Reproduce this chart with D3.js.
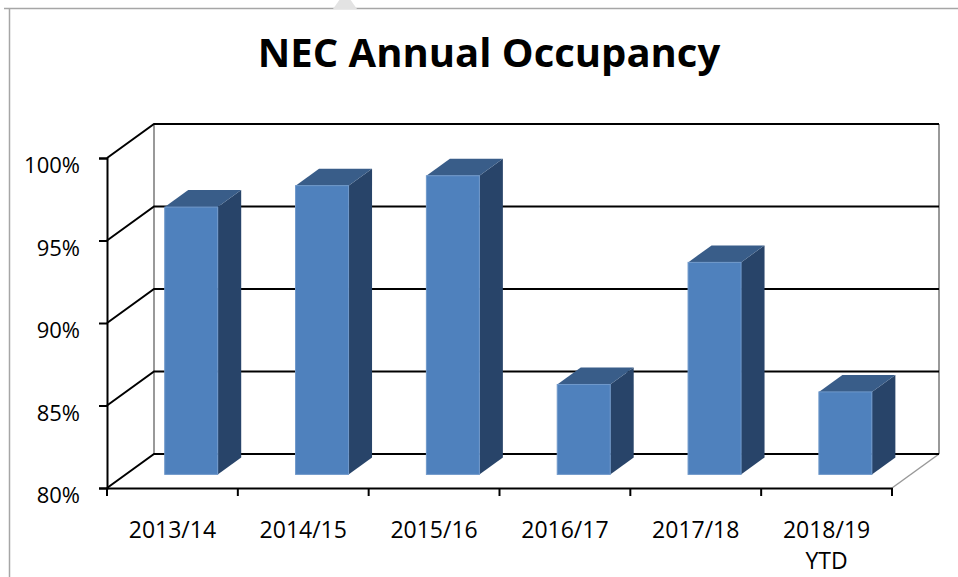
<!DOCTYPE html>
<html>
<head>
<meta charset="utf-8">
<script src="https://cdn.jsdelivr.net/npm/d3@7"></script>
<style>
  body { margin: 0; background: #fff; }
  svg { display: block; }
  text { font-family: "Open Sans", sans-serif; fill: #000; }
</style>
</head>
<body>
<svg id="chart" width="958" height="577"></svg>
<script>
// chart data
let years = ["2013/14", "2014/15", "2015/16", "2016/17", "2017/18", "2018/19 YTD"];
let occupancy = [96.2, 97.5, 98.1, 85.45, 92.85, 85.0];
let yTicks = [80, 85, 90, 95, 100];
let chartTitle = "NEC Annual Occupancy";

let svg = d3.select("#chart");

// front plane of the 3d box
let plotLeft = 107, plotRight = 892, plotTop = 158, plotBottom = 488;
// offset to the back wall
let depthX = 47, depthY = -34;

let xScale = d3.scaleBand()
  .domain(years)
  .range([plotLeft, plotRight])
  .padding(0);
let yScale = d3.scaleLinear()
  .domain([80, 100])
  .range([plotBottom, plotTop]);

// outer chart border (top and left are visible)
svg.append("line").attr("x1", 4).attr("x2", 958).attr("y1", 8.5).attr("y2", 8.5)
  .attr("stroke", "#a6a6a6").attr("stroke-width", 1.5);
svg.append("line").attr("x1", 9.5).attr("x2", 9.5).attr("y1", 8).attr("y2", 577)
  .attr("stroke", "#a6a6a6").attr("stroke-width", 1.5);
svg.append("path").attr("d", "M333,9 L345,-8 L357,9 Z").attr("fill", "#e3e3e3");

// title
svg.append("text")
  .attr("x", 489).attr("y", 67)
  .attr("text-anchor", "middle")
  .style("font-size", "40px")
  .style("font-weight", "bold")
  .text(chartTitle);

let walls = svg.append("g");

// back wall edges (grey)
walls.append("line")
  .attr("x1", plotLeft + depthX).attr("x2", plotLeft + depthX)
  .attr("y1", yScale(100) + depthY).attr("y2", yScale(80) + depthY)
  .attr("stroke", "#999").attr("stroke-width", 2);
walls.append("line")
  .attr("x1", plotRight + depthX).attr("x2", plotRight + depthX)
  .attr("y1", yScale(100) + depthY).attr("y2", yScale(80) + depthY)
  .attr("stroke", "#999").attr("stroke-width", 2);
// right edge of the floor
walls.append("line")
  .attr("x1", plotRight).attr("x2", plotRight + depthX)
  .attr("y1", yScale(80)).attr("y2", yScale(80) + depthY)
  .attr("stroke", "#999").attr("stroke-width", 1.5);

// gridlines: across the side wall and along the back wall
yTicks.forEach(function(v) {
  walls.append("polyline")
    .attr("points", [
      [plotLeft, yScale(v)],
      [plotLeft + depthX, yScale(v) + depthY],
      [plotRight + depthX, yScale(v) + depthY]
    ].join(" "))
    .attr("fill", "none")
    .attr("stroke", "#000")
    .attr("stroke-width", 2);
});

// y axis
let yAxis = d3.axisLeft(yScale)
  .tickValues(yTicks)
  .tickSize(8)
  .tickPadding(19)
  .tickFormat(d => d + "%");
let yAxisG = svg.append("g")
  .attr("transform", "translate(" + plotLeft + ",0)")
  .call(yAxis);
yAxisG.select(".domain").attr("stroke", "#000").attr("stroke-width", 2);
yAxisG.selectAll(".tick line").attr("stroke", "#000").attr("stroke-width", 2);
yAxisG.selectAll(".tick text")
  .attr("dy", "0.66em")
  .style("font-size", "22px")
  .style("font-family", "'Open Sans', sans-serif");

// x axis: line along the front floor edge, ticks between categories
let xAxis = d3.axisBottom(xScale).tickSize(0).tickPadding(0);
let xAxisG = svg.append("g")
  .attr("transform", "translate(0," + plotBottom + ")")
  .call(xAxis);
xAxisG.select(".domain").attr("stroke", "#000").attr("stroke-width", 2);
xAxisG.selectAll(".tick text").remove();
xAxisG.selectAll(".tick").each(function(d) {
  let parts = d.split(" ");
  let t = d3.select(this).append("text")
    .attr("text-anchor", "middle")
    .style("font-size", "23px")
    .style("font-family", "'Open Sans', sans-serif");
  parts.forEach(function(p, i) {
    t.append("tspan").attr("x", 0).attr("y", 50 + i * 31).text(p);
  });
});
let boundaries = years.map(d => xScale(d)).concat([plotRight]);
xAxisG.selectAll(".bound")
  .data(boundaries)
  .enter().append("line")
  .attr("class", "bound")
  .attr("x1", d => d).attr("x2", d => d)
  .attr("y1", 0).attr("y2", 8)
  .attr("stroke", "#000").attr("stroke-width", 2);

// 3d bars
let barFront = 0.4, barDepth = 0.5;
let barWidth = xScale.bandwidth() * 0.405;
let fx = depthX * barFront, fy = depthY * barFront;
let bx = depthX * barDepth, by = depthY * barDepth;

let bars = svg.append("g").selectAll("g")
  .data(years.map((y, i) => ({ year: y, value: occupancy[i] })))
  .enter().append("g");

bars.each(function(d) {
  let g = d3.select(this);
  let x0 = xScale(d.year) + (xScale.bandwidth() - barWidth) / 2 + fx;
  let x1 = x0 + barWidth;
  let yTop = yScale(d.value) + fy;
  let yBot = yScale(80) + fy;

  // side face
  g.append("polygon")
    .attr("points", [[x1, yTop], [x1 + bx, yTop + by], [x1 + bx, yBot + by], [x1, yBot]].join(" "))
    .attr("fill", "#284469");
  // top face
  g.append("polygon")
    .attr("points", [[x0, yTop], [x0 + bx, yTop + by], [x1 + bx, yTop + by], [x1, yTop]].join(" "))
    .attr("fill", "#395D89");
  // front face
  g.append("rect")
    .attr("x", x0).attr("y", yTop)
    .attr("width", barWidth).attr("height", yBot - yTop)
    .attr("fill", "#4F81BD")
    .attr("stroke", "#6F98CA").attr("stroke-width", 1);
});
</script>
</body>
</html>
